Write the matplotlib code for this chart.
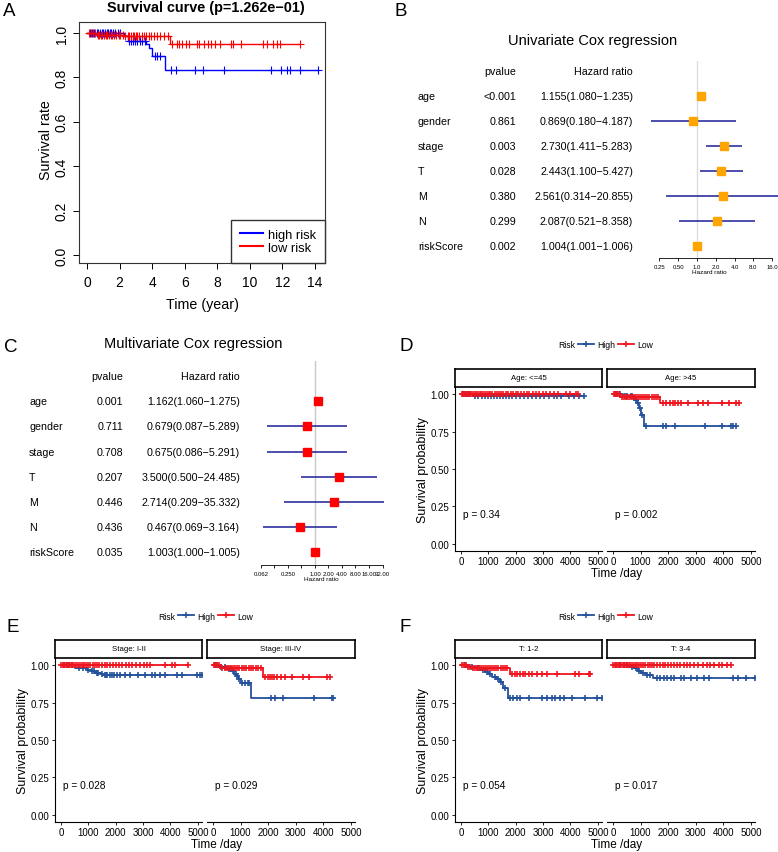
import numpy as np
import matplotlib
matplotlib.use('Agg')
import matplotlib.pyplot as plt
from matplotlib.lines import Line2D
from matplotlib.ticker import NullLocator
from matplotlib.transforms import blended_transform_factory

plt.rcParams['font.family'] = ['Liberation Sans', 'DejaVu Sans']

# ---------------- data ----------------
# Panel A: Kaplan-Meier (years)
A_high_t = [0, 2.25, 2.5, 3.6, 3.8, 4.0, 4.8]
A_high_s = [1.0, 0.985, 0.963, 0.95, 0.932, 0.895, 0.832]
A_high_end = 14.2
A_high_cens = [0.2, 0.3, 0.45, 0.6, 0.7, 0.8, 0.9, 1.0, 1.1, 1.2, 1.3, 1.4, 1.5, 1.6, 1.75, 1.9, 2.0,
               2.6, 2.7, 2.8, 2.95, 3.1, 3.25, 3.4, 3.55, 4.2, 4.3, 4.5,
               5.14, 5.44, 6.63, 7.1, 8.41, 11.28, 11.91, 12.3, 12.46, 13.08, 14.2]
A_low_t = [0, 0.55, 2.3, 5.1]
A_low_s = [1.0, 0.99, 0.985, 0.953]
A_low_end = 13.1
A_low_cens = [0.1, 0.25, 0.35, 0.5, 0.65, 0.75, 0.85, 0.95, 1.05, 1.15, 1.25, 1.35, 1.45, 1.55, 1.65,
              1.8, 1.95, 2.05, 2.2, 2.35, 2.5, 2.6, 2.7, 2.8, 2.9, 3.0, 3.1, 3.2, 3.35, 3.5, 3.65,
              3.8, 3.95, 4.1, 4.3, 4.5, 4.75, 4.95, 5.24, 5.5, 5.66, 5.85, 6.06, 6.26, 6.73, 6.89,
              7.2, 7.43, 7.59, 7.84, 8.17, 8.84, 8.98, 9.44, 10.79, 11.03, 11.44, 11.65, 11.85, 13.08]

# Panels B / C: Cox regression
cox_vars = ['age', 'gender', 'stage', 'T', 'M', 'N', 'riskScore']
uni_p = ['<0.001', '0.861', '0.003', '0.028', '0.380', '0.299', '0.002']
uni_hr = [1.155, 0.869, 2.730, 2.443, 2.561, 2.087, 1.004]
uni_lo = [1.080, 0.180, 1.411, 1.100, 0.314, 0.521, 1.001]
uni_hi = [1.235, 4.187, 5.283, 5.427, 20.855, 8.358, 1.006]
multi_p = ['0.001', '0.711', '0.708', '0.207', '0.446', '0.436', '0.035']
multi_hr = [1.162, 0.679, 0.675, 3.500, 2.714, 0.467, 1.003]
multi_lo = [1.060, 0.087, 0.086, 0.500, 0.209, 0.069, 1.000]
multi_hi = [1.275, 5.289, 5.291, 24.485, 35.332, 3.164, 1.005]
uni_ticks = [0.25, 0.5, 1, 2, 4, 8, 16]
uni_ticklabels = ['0.25', '0.50', '1.0', '2.0', '4.0', '8.0', '16.0']
multi_ticks = [0.0625, 0.125, 0.25, 0.5, 1, 2, 4, 8, 16, 32]
multi_ticklabels = ['0.062', '', '0.250', '', '1.00', '2.00', '4.00', '8.00', '16.00', '32.00']

# Panel D: age (days)
D_le45_high_t = [0, 450]
D_le45_high_s = [1.0, 0.99]
D_le45_high_end = 4500
D_le45_high_cens = [60, 150, 250, 350, 520, 640, 760, 880, 1000, 1100, 1200, 1300, 1420, 1540, 1650,
                    1760, 1880, 2000, 2150, 2300, 2450, 2600, 2750, 2900, 3050, 3200, 3380, 3520,
                    3640, 3930, 4120, 4300, 4500]
D_le45_low_t = [0]
D_le45_low_s = [1.0]
D_le45_low_end = 4270
D_le45_low_cens = [30, 80, 130, 180, 230, 280, 330, 380, 440, 500, 560, 620, 680, 740, 800, 870, 940,
                   1010, 1080, 1150, 1230, 1310, 1390, 1470, 1550, 1640, 1730, 1820, 1910, 2000, 2100,
                   2200, 2300, 2400, 2500, 2620, 2740, 2860, 2980, 3100, 3250, 3400, 3550, 3820,
                   4000, 4190, 4270]
D_gt45_high_t = [0, 350, 750, 820, 880, 950, 1020, 1130]
D_gt45_high_s = [1.0, 0.99, 0.975, 0.96, 0.94, 0.91, 0.86, 0.79]
D_gt45_high_end = 4450
D_gt45_high_cens = [80, 160, 250, 420, 520, 640, 700, 780, 850, 900, 980, 1060, 1200, 1820, 1940,
                    2240, 3320, 3960, 4280, 4370, 4450]
D_gt45_low_t = [0, 270, 1720]
D_gt45_low_s = [1.0, 0.985, 0.94]
D_gt45_low_end = 4560
D_gt45_low_cens = [30, 90, 150, 210, 320, 400, 460, 520, 590, 650, 720, 790, 860, 930, 1000, 1080,
                   1160, 1240, 1320, 1400, 1480, 1560, 1640, 1820, 1940, 2060, 2160, 2240, 2360,
                   2480, 2720, 3080, 3260, 3440, 3960, 4220, 4460, 4560]

# Panel E: stage
E_I_high_t = [0, 500, 950, 1100, 1250, 1450, 1550]
E_I_high_s = [1.0, 0.985, 0.97, 0.96, 0.95, 0.94, 0.935]
E_I_high_end = 5150
E_I_high_cens = [100, 250, 400, 650, 800, 1000, 1150, 1200, 1300, 1350, 1500, 1600, 1650, 1700, 1780,
                 1850, 1950, 2050, 2150, 2340, 2530, 2830, 3080, 3320, 3440, 3630, 3810, 4240, 4420,
                 4970, 5090, 5150]
E_I_low_t = [0]
E_I_low_s = [1.0]
E_I_low_end = 4650
E_I_low_cens = [20, 70, 120, 170, 220, 280, 340, 400, 460, 520, 580, 650, 720, 790, 860, 930, 1000,
                1080, 1160, 1240, 1320, 1400, 1500, 1600, 1700, 1800, 1900, 2000, 2120, 2240, 2360,
                2480, 2600, 2750, 2900, 3050, 3150, 3260, 3810, 4050, 4180, 4650]
E_III_high_t = [0, 200, 500, 700, 780, 850, 920, 1000, 1370]
E_III_high_s = [1.0, 0.99, 0.975, 0.96, 0.945, 0.93, 0.91, 0.88, 0.78]
E_III_high_end = 4370
E_III_high_cens = [60, 150, 300, 420, 600, 660, 740, 820, 880, 960, 1060, 1180, 1260, 1320, 2120,
                   2240, 2550, 3650, 4320, 4370]
E_III_low_t = [0, 280, 1820]
E_III_low_s = [1.0, 0.98, 0.92]
E_III_low_end = 4250
E_III_low_cens = [30, 90, 160, 220, 340, 420, 500, 570, 640, 720, 800, 880, 960, 1040, 1120, 1200,
                  1290, 1380, 1470, 1560, 1650, 1740, 1880, 1980, 2060, 2150, 2230, 2310, 2470, 2610,
                  2860, 3250, 3470, 4140, 4230]

# Panel F: T
F_12_high_t = [0, 300, 550, 750, 880, 1000, 1150, 1300, 1420, 1550, 1720]
F_12_high_s = [1.0, 0.99, 0.985, 0.97, 0.955, 0.94, 0.925, 0.91, 0.89, 0.85, 0.785]
F_12_high_end = 5150
F_12_high_cens = [150, 420, 650, 820, 950, 1080, 1230, 1350, 1480, 1620, 1795, 1920, 2040, 2160,
                  2470, 2960, 3140, 3320, 3440, 3630, 3750, 4050, 4540, 4970, 5150]
F_12_low_t = [0, 210, 400, 1780]
F_12_low_s = [1.0, 0.99, 0.985, 0.945]
F_12_low_end = 4720
F_12_low_cens = [30, 100, 170, 260, 330, 460, 520, 580, 640, 700, 770, 840, 910, 980, 1050, 1130,
                 1210, 1290, 1370, 1450, 1530, 1610, 1700, 1860, 1980, 2040, 2160, 2260, 2340, 2470,
                 2590, 2770, 2960, 3140, 3510, 4180, 4300, 4660, 4720]
F_34_high_t = [0, 600, 780, 900, 1020, 1200, 1450]
F_34_high_s = [1.0, 0.99, 0.98, 0.965, 0.95, 0.935, 0.915]
F_34_high_end = 5140
F_34_high_cens = [100, 250, 400, 520, 700, 850, 960, 1100, 1250, 1350, 1600, 1720, 1840, 1970, 2090,
                  2230, 2450, 2570, 2820, 3060, 3300, 3480, 4340, 4530, 4830, 5140]
F_34_low_t = [0]
F_34_low_s = [1.0]
F_34_low_end = 4270
F_34_low_cens = [20, 70, 120, 170, 220, 270, 330, 390, 450, 510, 570, 630, 690, 750, 820, 890, 960,
                 1030, 1100, 1180, 1260, 1340, 1420, 1500, 1600, 1700, 1800, 1900, 2000, 2100, 2200,
                 2320, 2440, 2560, 2680, 2800, 2950, 3100, 3250, 3400, 3520, 3650, 3830, 3960,
                 4140, 4270]

day_ticks = [0, 1000, 2000, 3000, 4000, 5000]
prob_ticks = [0, 0.25, 0.5, 0.75, 1.0]
prob_labels = ['0.00', '0.25', '0.50', '0.75', '1.00']

# ---------------- figure ----------------
W, H = 778, 853
fig = plt.figure(figsize=(W / 100, H / 100), dpi=100)


def px_box(l, t, r, b):
    return [l / W, 1 - b / H, (r - l) / W, (b - t) / H]


def fxy(x, y):
    return x / W, 1 - y / H


def draw_km(ax, t, s, end, cens, color, lw, ms, mew):
    ax.step(list(t) + [end], list(s) + [s[-1]], where='post', color=color, lw=lw)
    idx = np.searchsorted(t, cens, side='right') - 1
    ax.plot(cens, np.array(s)[idx], ls='none', marker='+', color=color, ms=ms, mew=mew)


# panel letters
for lab, (x, y) in zip('ABCDEF', [(9.5, 11), (401, 11), (11, 348), (406, 347), (13, 628), (405, 628)]):
    fig.text(*fxy(x, y), lab, fontsize=13.5, ha='center', va='center')

# ---- Panel A ----
axA = fig.add_axes(px_box(79, 23, 325, 264))
draw_km(axA, A_high_t, A_high_s, A_high_end, A_high_cens, 'blue', 1.0, 6, 0.8)
draw_km(axA, A_low_t, A_low_s, A_low_end, A_low_cens, 'red', 1.0, 6, 0.8)
axA.set_xlim(-0.49, 14.61)
axA.set_ylim(-0.036, 1.05)
axA.set_xticks(range(0, 15, 2))
axA.set_yticks([0, 0.2, 0.4, 0.6, 0.8, 1.0])
axA.set_yticklabels(['0.0', '0.2', '0.4', '0.6', '0.8', '1.0'], rotation=90, va='center')
axA.tick_params(length=4.5, width=0.7, labelsize=10)
axA.tick_params(axis='y', pad=3)
axA.tick_params(axis='x', pad=4)
for sp in axA.spines.values():
    sp.set_linewidth(0.8)
    sp.set_color('#333333')
axA.legend(handles=[Line2D([], [], color='blue', lw=1.5), Line2D([], [], color='red', lw=1.5)],
           labels=['high risk', 'low risk'], loc='lower right', fontsize=9.3, frameon=True,
           fancybox=False, edgecolor='#333333', framealpha=1, borderaxespad=0, borderpad=0.7,
           handlelength=1.8, handletextpad=0.35, labelspacing=0.1)
fig.text(*fxy(206, 8), 'Survival curve (p=1.262e\u221201)', fontsize=10.4, fontweight='bold',
         ha='center', va='center')
fig.text(*fxy(202, 305), 'Time (year)', fontsize=10.3, ha='center', va='center')
fig.text(*fxy(45.5, 140), 'Survival rate', fontsize=10.3, ha='center', va='center', rotation=90)


# ---- Panels B / C ----
def forest(box, pvals, hr, lo, hi, mcolor, ms, xlim, ylim, ticks, ticklabels, vcolor,
           title, title_xy, label_x, p_x, hr_x):
    ax = fig.add_axes(px_box(*box))
    ax.set_facecolor('none')
    ypos = np.arange(len(cox_vars), 0, -1)
    ax.axvline(1, color=vcolor, lw=1.0, zorder=0)
    ax.hlines(ypos, lo, hi, color='#1c1c96', lw=1.1)
    ax.plot(hr, ypos, ls='none', marker='s', color=mcolor, ms=ms)
    ax.set_xscale('log', base=2)
    ax.set_xlim(*xlim)
    ax.set_ylim(*ylim)
    for k in ('top', 'right', 'left'):
        ax.spines[k].set_visible(False)
    ax.spines['bottom'].set_bounds(ticks[0], ticks[-1])
    ax.spines['bottom'].set_linewidth(0.6)
    ax.set_xticks(ticks)
    ax.set_xticklabels(ticklabels)
    ax.xaxis.set_minor_locator(NullLocator())
    ax.set_yticks([])
    ax.tick_params(axis='x', length=2.5, width=0.6, labelsize=4.3, pad=1.5)
    ax.set_xlabel('Hazard ratio', fontsize=4.6, labelpad=0.5)
    tr = blended_transform_factory(fig.transFigure, ax.transData)
    fs = 7.7
    ax.text(p_x / W, 8, 'pvalue', transform=tr, ha='right', va='center', fontsize=fs)
    ax.text(hr_x / W, 8, 'Hazard ratio', transform=tr, ha='right', va='center', fontsize=fs)
    for v, y, p, h, l, u in zip(cox_vars, ypos, pvals, hr, lo, hi):
        ax.text(label_x / W, y, v, transform=tr, ha='left', va='center', fontsize=fs)
        ax.text(p_x / W, y, p, transform=tr, ha='right', va='center', fontsize=fs)
        ax.text(hr_x / W, y, f'{h:.3f}({l:.3f}\u2212{u:.3f})', transform=tr, ha='right',
                va='center', fontsize=fs)
    fig.text(*fxy(*title_xy), title, fontsize=10.5, ha='center', va='center')


forest((640, 62, 778, 259), uni_p, uni_hr, uni_lo, uni_hi, '#FFA500', 5.6,
       (0.1222, 19.82), (0.508, 8.39), uni_ticks, uni_ticklabels, '#dddddd',
       'Univariate Cox regression', (593, 41), 418, 516, 633)
forest((250, 362, 392, 566), multi_p, multi_hr, multi_lo, multi_hi, '#FF0000', 6.0,
       (0.0356, 52.1), (0.495, 8.6), multi_ticks, multi_ticklabels, '#c8c8c8',
       'Multivariate Cox regression', (193, 344), 29, 123, 240)

# ---- Panels D / E / F ----
HIGH_C = '#24519C'
LOW_C = '#F0141E'


def km_facets(dx, dy, strips, curves, pvals):
    panels = [(455, 659, 602, 823), (607, 659, 755, 823)]
    strip_boxes = [(455, 641, 602, 659), (607, 641, 755, 659)]
    for i in range(2):
        l, t, r, b = panels[i]
        ax = fig.add_axes(px_box(l + dx, t + dy, r + dx, b + dy))
        (ht, hs, he, hc), (lt, ls_, le, lc) = curves[i]
        draw_km(ax, ht, hs, he, hc, HIGH_C, 1.3, 5, 1.2)
        draw_km(ax, lt, ls_, le, lc, LOW_C, 1.3, 5, 1.2)
        ax.set_xlim(-215, 5150)
        ax.set_ylim(-0.05, 1.05)
        ax.spines['top'].set_visible(False)
        ax.spines['right'].set_visible(False)
        ax.spines['bottom'].set_linewidth(0.8)
        ax.set_xticks(day_ticks)
        ax.tick_params(axis='x', length=2.5, width=0.6, labelsize=7, pad=1)
        if i == 0:
            ax.spines['left'].set_linewidth(0.8)
            ax.set_yticks(prob_ticks)
            ax.set_yticklabels(prob_labels)
            ax.tick_params(axis='y', length=2.5, width=0.6, labelsize=7, pad=1.5)
        else:
            ax.spines['left'].set_visible(False)
            ax.set_yticks([])
        ax.text(80, 0.195, pvals[i], fontsize=7.3, ha='left', va='center')
        sl, st, sr, sb = strip_boxes[i]
        axs = fig.add_axes(px_box(sl + dx, st + dy, sr + dx, sb + dy))
        axs.set_xticks([])
        axs.set_yticks([])
        for sp in axs.spines.values():
            sp.set_linewidth(1.2)
        axs.text(0.5, 0.5, strips[i], transform=axs.transAxes, ha='center', va='center',
                 fontsize=5.6)
    fig.text(*fxy(423 + dx, 741 + dy), 'Survival probability', fontsize=9, rotation=90,
             ha='center', va='center')
    fig.text(*fxy(617 + dx, 845 + dy), 'Time /day', fontsize=8.5, ha='center', va='center')
    fig.text(*fxy(567 + dx, 617 + dy), 'Risk', fontsize=6.2, ha='center', va='center')
    handles = [Line2D([], [], color=HIGH_C, lw=1.3, marker='+', ms=4.5, mew=1.1),
               Line2D([], [], color=LOW_C, lw=1.3, marker='+', ms=4.5, mew=1.1)]
    fig.legend(handles=handles, labels=['High', 'Low'], loc='center left',
               bbox_to_anchor=fxy(578 + dx, 617 + dy), ncol=2, fontsize=6.2, frameon=False,
               handlelength=1.9, handletextpad=0.35, columnspacing=0.3, borderpad=0,
               borderaxespad=0)


km_facets(0, -271, ['Age: <=45', 'Age: >45'],
          [((D_le45_high_t, D_le45_high_s, D_le45_high_end, D_le45_high_cens),
            (D_le45_low_t, D_le45_low_s, D_le45_low_end, D_le45_low_cens)),
           ((D_gt45_high_t, D_gt45_high_s, D_gt45_high_end, D_gt45_high_cens),
            (D_gt45_low_t, D_gt45_low_s, D_gt45_low_end, D_gt45_low_cens))],
          ['p = 0.34', 'p = 0.002'])
km_facets(-400, 0, ['Stage: I-II', 'Stage: III-IV'],
          [((E_I_high_t, E_I_high_s, E_I_high_end, E_I_high_cens),
            (E_I_low_t, E_I_low_s, E_I_low_end, E_I_low_cens)),
           ((E_III_high_t, E_III_high_s, E_III_high_end, E_III_high_cens),
            (E_III_low_t, E_III_low_s, E_III_low_end, E_III_low_cens))],
          ['p = 0.028', 'p = 0.029'])
km_facets(0, 0, ['T: 1-2', 'T: 3-4'],
          [((F_12_high_t, F_12_high_s, F_12_high_end, F_12_high_cens),
            (F_12_low_t, F_12_low_s, F_12_low_end, F_12_low_cens)),
           ((F_34_high_t, F_34_high_s, F_34_high_end, F_34_high_cens),
            (F_34_low_t, F_34_low_s, F_34_low_end, F_34_low_cens))],
          ['p = 0.054', 'p = 0.017'])

fig.savefig('out.png', dpi=100)
